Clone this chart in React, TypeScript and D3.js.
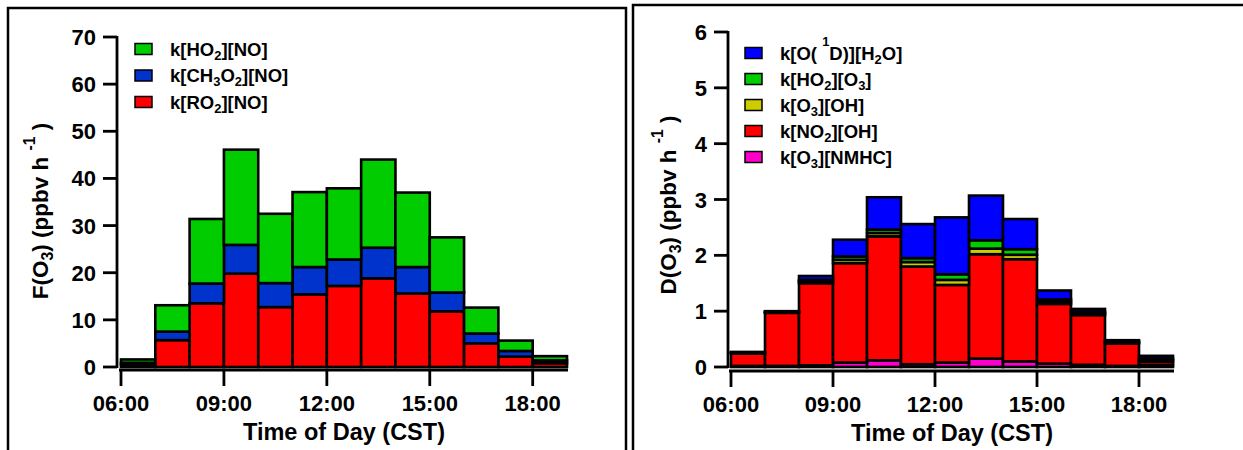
import React from "react";
import * as d3 from "d3";

const hours = [6, 7, 8, 9, 10, 11, 12, 13, 14, 15, 16, 17, 18];
const xTicks = [6, 9, 12, 15, 18];
const xTickLabels = ["06:00", "09:00", "12:00", "15:00", "18:00"];

// Left: production F(O3)
const fRO2NO = [0.5, 5.7, 13.5, 19.8, 12.7, 15.4, 17.2, 18.8, 15.6, 11.8, 5.0, 2.2, 0.8];
const fCH3O2NO = [0.4, 1.8, 4.2, 6.1, 5.1, 5.8, 5.6, 6.5, 5.6, 4.0, 2.1, 1.2, 0.6];
const fHO2NO = [0.7, 5.6, 13.7, 20.2, 14.7, 15.9, 15.1, 18.7, 15.8, 11.7, 5.5, 2.2, 0.9];
const leftTicks = [0, 10, 20, 30, 40, 50, 60, 70];

// Right: destruction D(O3)
const dO3NMHC = [0.02, 0.02, 0.03, 0.08, 0.12, 0.05, 0.08, 0.15, 0.1, 0.06, 0.04, 0.02, 0.03];
const dNO2OH = [0.22, 0.95, 1.47, 1.78, 2.22, 1.75, 1.39, 1.87, 1.83, 1.07, 0.89, 0.4, 0.06];
const dO3OH = [0.01, 0.01, 0.03, 0.06, 0.06, 0.08, 0.09, 0.1, 0.08, 0.04, 0.03, 0.02, 0.03];
const dHO2O3 = [0.01, 0.01, 0.03, 0.06, 0.06, 0.07, 0.1, 0.15, 0.1, 0.04, 0.03, 0.02, 0.03];
const dO1DH2O = [0.01, 0.01, 0.07, 0.3, 0.58, 0.61, 1.02, 0.8, 0.54, 0.16, 0.05, 0.02, 0.05];
const rightTicks = [0, 1, 2, 3, 4, 5, 6];

type Seg = { t: string; s?: "sub" | "sup" | "hsup" };

const leftSeries = [
  { key: "ro2", values: fRO2NO, color: "#FF0000" },
  { key: "ch3o2", values: fCH3O2NO, color: "#0033CC" },
  { key: "ho2", values: fHO2NO, color: "#00CC00" },
];
const leftLegend: { color: string; label: Seg[] }[] = [
  { color: "#00CC00", label: [{ t: "k[HO" }, { t: "2", s: "sub" }, { t: "][NO]" }] },
  { color: "#0033CC", label: [{ t: "k[CH" }, { t: "3", s: "sub" }, { t: "O" }, { t: "2", s: "sub" }, { t: "][NO]" }] },
  { color: "#FF0000", label: [{ t: "k[RO" }, { t: "2", s: "sub" }, { t: "][NO]" }] },
];

const rightSeries = [
  { key: "nmhc", values: dO3NMHC, color: "#FF00CC" },
  { key: "no2oh", values: dNO2OH, color: "#FF0000" },
  { key: "o3oh", values: dO3OH, color: "#CCCC00" },
  { key: "ho2o3", values: dHO2O3, color: "#00CC00" },
  { key: "o1d", values: dO1DH2O, color: "#0000FF" },
];
const rightLegend: { color: string; label: Seg[] }[] = [
  { color: "#0000FF", label: [{ t: "k[O( " }, { t: "1", s: "hsup" }, { t: "D)][H" }, { t: "2", s: "sub" }, { t: "O]" }] },
  { color: "#00CC00", label: [{ t: "k[HO" }, { t: "2", s: "sub" }, { t: "][O" }, { t: "3", s: "sub" }, { t: "]" }] },
  { color: "#CCCC00", label: [{ t: "k[O" }, { t: "3", s: "sub" }, { t: "][OH]" }] },
  { color: "#FF0000", label: [{ t: "k[NO" }, { t: "2", s: "sub" }, { t: "][OH]" }] },
  { color: "#FF00CC", label: [{ t: "k[O" }, { t: "3", s: "sub" }, { t: "][NMHC]" }] },
];

const FONT = "'Liberation Sans', Arial, Helvetica, sans-serif";

function RichText({ segs, x, y, size, anchor = "start", transform }: { segs: Seg[]; x: number; y: number; size: number; anchor?: string; transform?: string }) {
  const out: React.ReactNode[] = [];
  let cur = 0;
  segs.forEach((sg, i) => {
    let target = 0;
    let fs = size;
    if (sg.s === "sub") { target = size * 0.22; fs = size * 0.7; }
    if (sg.s === "sup") { target = -size * 0.6; fs = size * 0.7; }
    if (sg.s === "hsup") { target = -size * 0.75; fs = size * 0.7; }
    const dy = target - cur;
    cur = target;
    out.push(
      <tspan key={i} dy={dy} fontSize={fs}>{sg.t}</tspan>
    );
  });
  return (
    <text x={x} y={y} fontFamily={FONT} fontWeight="bold" fontSize={size} textAnchor={anchor as any} transform={transform} fill="#000">
      {out}
    </text>
  );
}

function Panel({ series, legend, yTicks, yMax, xRange, yRange, yAxisX, xAxisY, title, legendX, legendY0, legendStep, titleX, titleY }: any) {
  const x = d3.scaleLinear().domain([6, 19]).range(xRange);
  const y = d3.scaleLinear().domain([0, yMax]).range(yRange);
  const table = hours.map((h, i) => {
    const row: any = { hour: h };
    series.forEach((s: any) => (row[s.key] = s.values[i]));
    return row;
  });
  const stacked = d3.stack().keys(series.map((s: any) => s.key))(table as any);
  const xTitleX = (xRange[0] + xRange[1]) / 2;
  return (
    <g>
      {stacked.map((layer: any, li: number) => (
        <g key={layer.key}>
          {layer.map((d: any, i: number) => (
            <rect
              key={i}
              x={x(hours[i])}
              y={y(d[1])}
              width={x(hours[i] + 1) - x(hours[i])}
              height={Math.max(0, y(d[0]) - y(d[1]))}
              fill={series[li].color}
              stroke="#000"
              strokeWidth={2.6}
            />
          ))}
        </g>
      ))}
      {/* y axis */}
      <line x1={yAxisX} x2={yAxisX} y1={y(yMax) - 1} y2={y(0) + 1} stroke="#000" strokeWidth={2.8} />
      {yTicks.map((t: number) => (
        <g key={t}>
          <line x1={yAxisX - 14} x2={yAxisX} y1={y(t)} y2={y(t)} stroke="#000" strokeWidth={2.8} />
          <text x={yAxisX - 21} y={y(t) + 8} textAnchor="end" fontFamily={FONT} fontWeight="bold" fontSize={22}>{t}</text>
        </g>
      ))}
      {/* x axis */}
      <line x1={x(6) - 2} x2={x(19) + 1} y1={xAxisY} y2={xAxisY} stroke="#000" strokeWidth={2.8} />
      {xTicks.map((t, i) => (
        <g key={t}>
          <line x1={x(t)} x2={x(t)} y1={xAxisY} y2={xAxisY + 16} stroke="#000" strokeWidth={2.8} />
          <text x={x(t)} y={xAxisY + 41} textAnchor="middle" fontFamily={FONT} fontWeight="bold" fontSize={22}>{xTickLabels[i]}</text>
        </g>
      ))}
      <text x={xTitleX} y={xAxisY + 70} textAnchor="middle" fontFamily={FONT} fontWeight="bold" fontSize={23.5}>Time of Day (CST)</text>
      <RichText segs={title} x={0} y={0} size={22.5} anchor="middle" transform={`translate(${titleX},${titleY}) rotate(-90)`} />
      {/* legend */}
      {legend.map((l: any, i: number) => (
        <g key={i}>
          <rect x={legendX} y={legendY0 + i * legendStep - 5.5} width={17} height={11} fill={l.color} stroke="#000" strokeWidth={1.5} />
          <RichText segs={l.label} x={legendX + 35} y={legendY0 + i * legendStep + 6.5} size={18.5} />
        </g>
      ))}
    </g>
  );
}

export default function App() {
  const leftTitle: Seg[] = [{ t: "F(O" }, { t: "3", s: "sub" }, { t: ") (ppbv h " }, { t: "-1", s: "sup" }, { t: "  )" }];
  const rightTitle: Seg[] = [{ t: "D(O" }, { t: "3", s: "sub" }, { t: ") (ppbv h " }, { t: "-1", s: "sup" }, { t: "  )" }];
  return (
    <svg width={1243} height={450} style={{ position: "absolute", left: 0, top: 0, background: "#fff" }}>
      <rect x={0} y={0} width={1243} height={450} fill="#fff" />
      {/* panel frames */}
      <rect x={8} y={8} width={618} height={460} fill="none" stroke="#000" strokeWidth={2.5} />
      <rect x={633} y={5} width={620} height={460} fill="none" stroke="#000" strokeWidth={2.5} />
      <Panel
        series={leftSeries}
        legend={leftLegend}
        yTicks={leftTicks}
        yMax={70}
        xRange={[121, 567]}
        yRange={[367, 37]}
        yAxisX={117}
        xAxisY={370}
        title={leftTitle}
        titleX={48}
        titleY={211}
        legendX={135}
        legendY0={49}
        legendStep={26.5}
      />
      <Panel
        series={rightSeries}
        legend={rightLegend}
        yTicks={rightTicks}
        yMax={6}
        xRange={[731, 1173]}
        yRange={[367, 32]}
        yAxisX={728}
        xAxisY={371}
        title={rightTitle}
        titleX={676}
        titleY={205}
        legendX={745}
        legendY0={53}
        legendStep={26}
      />
    </svg>
  );
}
